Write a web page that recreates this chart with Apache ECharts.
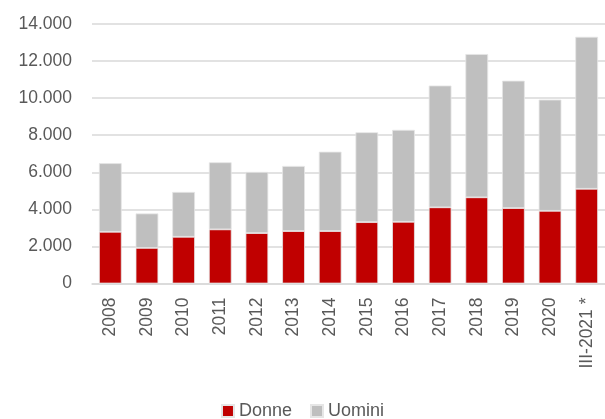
<!DOCTYPE html>
<html>
<head>
<meta charset="utf-8">
<script src="https://cdn.jsdelivr.net/npm/echarts@6/dist/echarts.min.js"></script>
<style>
  html, body { margin: 0; padding: 0; background: #fff; }
  #chart { width: 605px; height: 419px; }
</style>
</head>
<body>
<div id="chart"></div>
<script>
// categorie (anni)
var anni = ['2008', '2009', '2010', '2011', '2012', '2013', '2014', '2015', '2016', '2017', '2018', '2019', '2020', 'III-2021 *'];
// valori
var donne  = [2790, 1920, 2520, 2920, 2720, 2830, 2830, 3310, 3330, 4110, 4650, 4070, 3920, 5110];
var uomini = [3700, 1860, 2420, 3620, 3300, 3510, 4280, 4850, 4960, 6570, 7730, 6870, 6000, 8200];

var chart = echarts.init(document.getElementById('chart'));

var txtColor = '#595959';
var fontFam = '"Liberation Sans", Arial, sans-serif';

var option = {
    animation: false,
    textStyle: { fontFamily: fontFam },
    legend: {
        data: ['Donne', 'Uomini'],
        bottom: -6,
        left: 'center',
        itemWidth: 12,
        itemHeight: 12,
        itemGap: 18,
        icon: 'rect',
        textStyle: { fontSize: 18, color: txtColor, fontFamily: fontFam }
    },
    grid: {
        left: 92,
        top: 24,
        width: 516,
        height: 259.5
    },
    xAxis: {
        type: 'category',
        data: anni,
        axisLine: { lineStyle: { color: '#d9d9d9', width: 1.5 } },
        axisTick: { show: false },
        axisLabel: {
            rotate: 90,
            color: txtColor,
            fontSize: 17.5,
            margin: 14,
            interval: 0
        }
    },
    yAxis: {
        type: 'value',
        min: 0,
        max: 14000,
        interval: 2000,
        axisLine: { show: false },
        axisTick: { show: false },
        splitLine: { lineStyle: { color: '#d9d9d9', width: 1.5 } },
        axisLabel: {
            color: txtColor,
            fontSize: 17.5,
            margin: 20,
            formatter: function (v) {
                return v === 0 ? '0' : v.toLocaleString('it-IT');
            }
        }
    },
    series: [
        {
            name: 'Donne',
            type: 'bar',
            stack: 'tot',
            data: donne,
            barCategoryGap: '38%',
            itemStyle: { color: '#C00000', borderColor: '#e6e6e6', borderWidth: 0.8 }
        },
        {
            name: 'Uomini',
            type: 'bar',
            stack: 'tot',
            data: uomini,
            barCategoryGap: '38%',
            itemStyle: { color: '#BFBFBF', borderColor: '#e6e6e6', borderWidth: 0.8 }
        }
    ]
};

chart.setOption(option);
</script>
</body>
</html>
